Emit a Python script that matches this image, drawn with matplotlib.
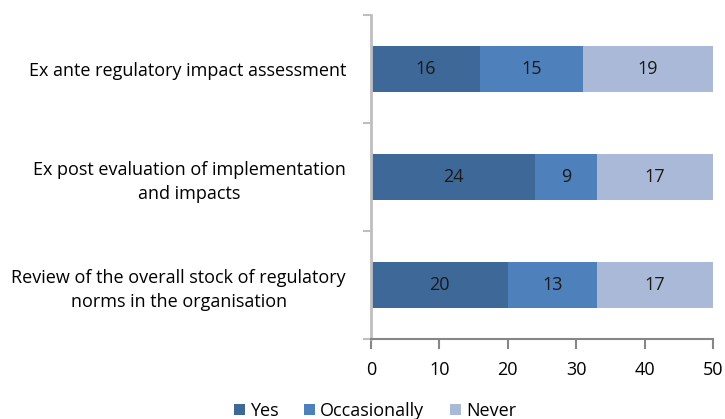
import matplotlib
matplotlib.use("Agg")
import matplotlib.pyplot as plt
import numpy as np

categories = [
    "Ex ante regulatory impact assessment",
    "Ex post evaluation of implementation\nand impacts",
    "Review of the overall stock of regulatory\nnorms in the organisation",
]
yes = [16, 24, 20]
occasionally = [15, 9, 13]
never = [19, 17, 17]
series_names = ["Yes", "Occasionally", "Never"]
colors = ["#3e6898", "#4e80bb", "#a9b9d7"]
x_ticks = [0, 10, 20, 30, 40, 50]

plt.rcParams["font.family"] = ["Open Sans", "DejaVu Sans"]

fig = plt.figure(figsize=(7.25, 4.19), dpi=100)
ax = fig.add_axes([371 / 725, 80 / 419, 342 / 725, 324 / 419])

y = np.arange(len(categories))
left = np.zeros(len(categories))
for name, vals, c in zip(series_names, [yes, occasionally, never], colors):
    bars = ax.barh(y, vals, left=left, height=0.42, color=c, label=name)
    for b, v in zip(bars, vals):
        ax.text(b.get_x() + b.get_width() / 2, b.get_y() + b.get_height() / 2,
                str(v), ha="center", va="center", fontsize=13, color="#1a1a1a")
    left += np.array(vals)

ax.set_xlim(0, 50)
ax.set_ylim(2.5, -0.5)
ax.set_xticks(x_ticks)
ax.set_xticklabels([str(t) for t in x_ticks], fontsize=13)
ax.set_yticks(y)
ax.set_yticklabels(categories, fontsize=13, multialignment="center", linespacing=1.45)
ax.tick_params(axis="y", length=0, pad=18)
ax.tick_params(axis="x", length=7, color="#868686", width=1.5, pad=9)

# category boundary ticks on the left spine
ax.set_yticks([-0.5, 0.5, 1.5, 2.5], minor=True)
ax.tick_params(axis="y", which="minor", length=6, color="#bfbfbf", width=1.5)

for s in ["top", "right"]:
    ax.spines[s].set_visible(False)
ax.spines["left"].set_color("#bfbfbf")
ax.spines["left"].set_linewidth(2)
ax.spines["bottom"].set_color("#868686")
ax.spines["bottom"].set_linewidth(1.5)

fig.legend(loc="center", bbox_to_anchor=(375 / 725, 1 - 411 / 419), ncol=3,
           frameon=False, fontsize=13, handlelength=0.6, handleheight=0.6,
           handletextpad=0.3, columnspacing=1.4)

fig.savefig("out.png", dpi=100)
